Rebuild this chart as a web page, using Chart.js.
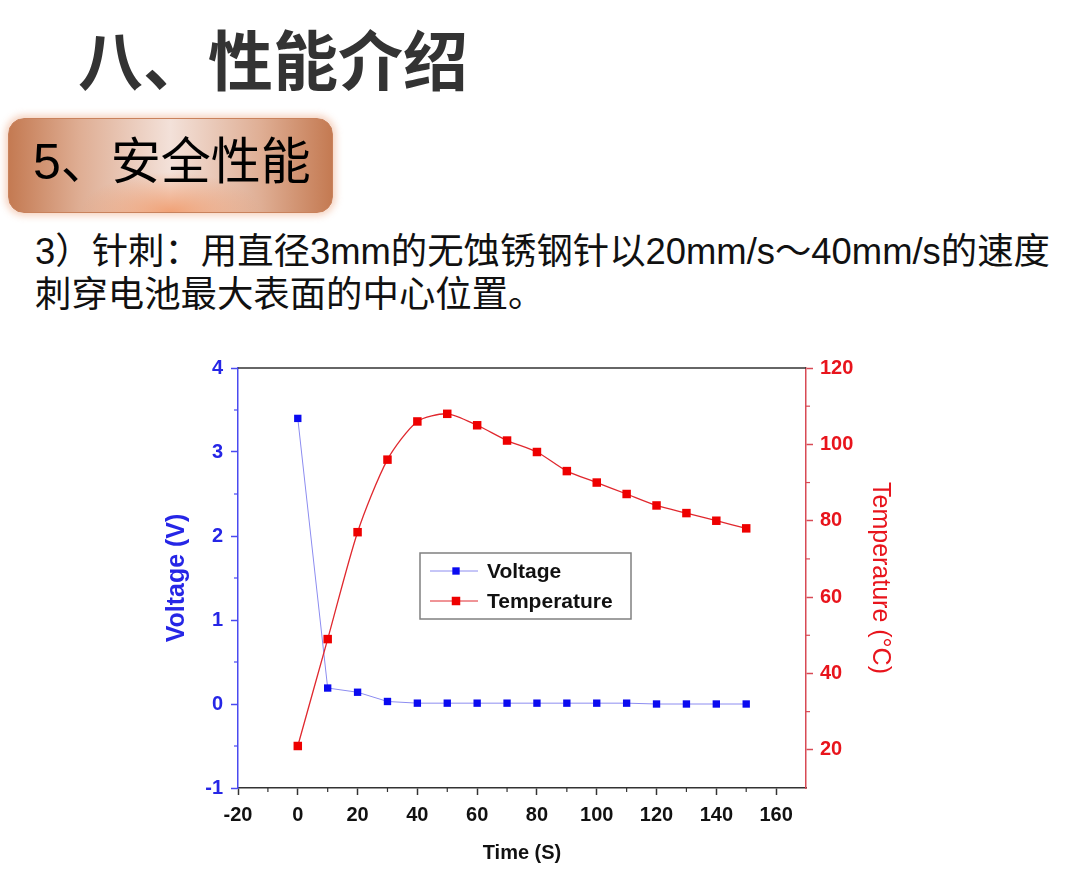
<!DOCTYPE html>
<html lang="zh-CN">
<head>
<meta charset="utf-8">
<title>八、性能介绍</title>
<script src="https://cdn.jsdelivr.net/npm/chart.js@4.4.1/dist/chart.umd.min.js"></script>
<style>
  html, body { margin: 0; padding: 0; background: #fff; }
  body { width: 1080px; height: 876px; position: relative; overflow: hidden;
         font-family: "Liberation Sans", "Noto Sans CJK SC", sans-serif; }
  #title { position: absolute; left: 78px; top: 25px; font-size: 65px; font-weight: bold;
           color: #333; line-height: 1; white-space: nowrap;
           font-family: "Noto Sans CJK SC", sans-serif; }
  #section { position: absolute; left: 8px; top: 118px; width: 325px; height: 95px;
             box-sizing: border-box; border-radius: 16px; border: 1px solid #c9825c;
             background:
               radial-gradient(ellipse 90px 40px at 50% 100%, rgba(240,150,100,0.85) 0%, rgba(240,160,120,0) 100%),
               linear-gradient(to right, #c47a52 0%, #dfae94 22%, #f3e1d9 50%, #dfae94 78%, #c47a52 100%);
             box-shadow: 0 0 7px 3px rgba(235,160,120,0.45); }
  #section span { position: absolute; left: 24px; top: 18px; font-size: 50px; line-height: 1;
                  color: #000; white-space: nowrap; }
  #desc { position: absolute; left: 35px; top: 230px; font-size: 36.4px; line-height: 43px;
          color: #111; white-space: nowrap; }
  #chartBox { position: absolute; left: 150px; top: 340px; width: 780px; height: 536px; }
</style>
</head>
<body>
<div id="title">八、性能介绍</div>
<div id="section"><span>5、安全性能</span></div>
<div id="desc">3）针刺：用直径3mm的无蚀锈钢针以20mm/s～40mm/s的速度<br>刺穿电池最大表面的中心位置。</div>
<div id="chartBox"><canvas id="grafico" width="780" height="536"></canvas></div>

<script>
// valores
const tiempo = [0, 10, 20, 30, 40, 50, 60, 70, 80, 90, 100, 110, 120, 130, 140, 150];
const voltaje = [3.40, 0.19, 0.14, 0.03, 0.01, 0.01, 0.01, 0.01, 0.01, 0.01, 0.01, 0.01, 0.00, 0.00, 0.00, 0.00];
const temperatura = [21, 49, 77, 96, 106, 108, 105, 101, 98, 93, 90, 87, 84, 82, 80, 78];

const ticksX = [-20, 0, 20, 40, 60, 80, 100, 120, 140, 160];
const menoresX = [-10, 10, 30, 50, 70, 90, 110, 130, 150];
const ticksV = [-1, 0, 1, 2, 3, 4];
const menoresV = [-0.5, 0.5, 1.5, 2.5, 3.5];
const ticksT = [20, 40, 60, 80, 100, 120];
const menoresT = [30, 50, 70, 90, 110];

const azul = '#2626e6';
const rojo = '#e8141c';
const fuente = '"Liberation Sans", Arial, sans-serif';

Chart.defaults.font.family = fuente;

function fijarTicks(valores) {
    return function(scale) {
        scale.ticks = valores.map(v => ({value: v}));
    };
}

// ticks menores, marco superior y leyenda dentro del área
const extras = {
    id: 'extras',
    afterDraw(chart) {
        const c = chart.ctx;
        const a = chart.chartArea;
        const s = chart.scales;
        c.save();

        c.strokeStyle = '#333';
        c.lineWidth = 1.5;
        c.beginPath();
        c.moveTo(a.left, a.top);
        c.lineTo(a.right, a.top);
        c.stroke();

        function menores(lista, scale, color, lado) {
            c.strokeStyle = color;
            c.lineWidth = 1.2;
            lista.forEach(v => {
                const p = scale.getPixelForValue(v);
                c.beginPath();
                if (lado === 'x') { c.moveTo(p, a.bottom); c.lineTo(p, a.bottom + 4); }
                if (lado === 'l') { c.moveTo(a.left, p); c.lineTo(a.left - 4, p); }
                if (lado === 'r') { c.moveTo(a.right, p); c.lineTo(a.right + 4, p); }
                c.stroke();
            });
        }
        menores(menoresX, s.x, '#333', 'x');
        menores(menoresV, s.yV, '#4a4af0', 'l');
        menores(menoresT, s.yT, '#d84a55', 'r');

        // leyenda
        const lx = a.left + 182;
        const ly = a.top + 185;
        c.fillStyle = '#fff';
        c.fillRect(lx, ly, 211, 66);
        c.strokeStyle = '#808080';
        c.lineWidth = 1.5;
        c.strokeRect(lx, ly, 211, 66);
        chart.data.datasets.forEach((ds, i) => {
            const y = ly + 18 + i * 30;
            c.strokeStyle = ds.borderColor;
            c.lineWidth = 1;
            c.beginPath();
            c.moveTo(lx + 10, y);
            c.lineTo(lx + 58, y);
            c.stroke();
            const lado = ds.pointRadius * Math.SQRT2;
            c.fillStyle = ds.pointBackgroundColor;
            c.fillRect(lx + 36 - lado / 2, y - lado / 2, lado, lado);
            c.fillStyle = '#111';
            c.font = 'bold 21px ' + fuente;
            c.textBaseline = 'middle';
            c.fillText(ds.label, lx + 67, y + 1);
        });
        c.restore();
    }
};

const ctx = document.getElementById('grafico').getContext('2d');

const grafico = new Chart(ctx, {
    type: 'line',
    data: {
        datasets: [{
            label: 'Voltage',
            data: tiempo.map((t, i) => ({x: t, y: voltaje[i]})),
            yAxisID: 'yV',
            borderColor: '#8c8cf0',
            borderWidth: 1,
            pointStyle: 'rect',
            pointRadius: 5.2,
            pointBackgroundColor: '#0a0af0',
            pointBorderWidth: 0,
            tension: 0,
            order: 1
        }, {
            label: 'Temperature',
            data: tiempo.map((t, i) => ({x: t, y: temperatura[i]})),
            yAxisID: 'yT',
            borderColor: '#e0282e',
            borderWidth: 1.3,
            pointStyle: 'rect',
            pointRadius: 6,
            pointBackgroundColor: '#ee0000',
            pointBorderWidth: 0,
            tension: 0.25,
            order: 0
        }]
    },
    options: {
        responsive: false,
        animation: false,
        layout: { padding: { top: 28, left: 0, right: 0, bottom: 0 } },
        plugins: { legend: { display: false }, tooltip: { enabled: false } },
        scales: {
            x: {
                type: 'linear',
                position: 'bottom',
                min: -20,
                max: 170,
                afterBuildTicks: fijarTicks(ticksX),
                afterFit(scale) { scale.height = 88; },
                grid: { drawOnChartArea: false, tickLength: 7, tickColor: '#333', tickWidth: 1.5 },
                border: { color: '#333', width: 1.5 },
                ticks: { color: '#111', padding: 8, font: { size: 20, weight: 'bold' } },
                title: { display: true, text: 'Time (S)', color: '#111',
                         font: { size: 20, weight: 'bold' }, padding: { top: 0, bottom: 11 } }
            },
            yV: {
                type: 'linear',
                position: 'left',
                min: -1,
                max: 4,
                afterBuildTicks: fijarTicks(ticksV),
                afterFit(scale) { scale.width = 88; },
                grid: { drawOnChartArea: false, tickLength: 7, tickColor: '#4a4af0', tickWidth: 1.5 },
                border: { color: '#4a4af0', width: 1.5 },
                ticks: { color: azul, padding: 8, font: { size: 20, weight: 'bold' } },
                title: { display: true, text: 'Voltage (V)', color: azul,
                         font: { size: 25, weight: 'bold' }, padding: { top: 12, bottom: 0 } }
            },
            yT: {
                type: 'linear',
                position: 'right',
                min: 10,
                max: 120,
                afterBuildTicks: fijarTicks(ticksT),
                afterFit(scale) { scale.width = 124; },
                grid: { drawOnChartArea: false, tickLength: 7, tickColor: '#d84a55', tickWidth: 1.5 },
                border: { color: '#d84a55', width: 1.5 },
                ticks: { color: rojo, padding: 7, font: { size: 20, weight: 'bold' } },
                title: { display: true, text: 'Temperature (°C)', color: rojo,
                         font: { size: 25 }, padding: { top: 35, bottom: 0 } }
            }
        }
    },
    plugins: [extras]
});
</script>
</body>
</html>
